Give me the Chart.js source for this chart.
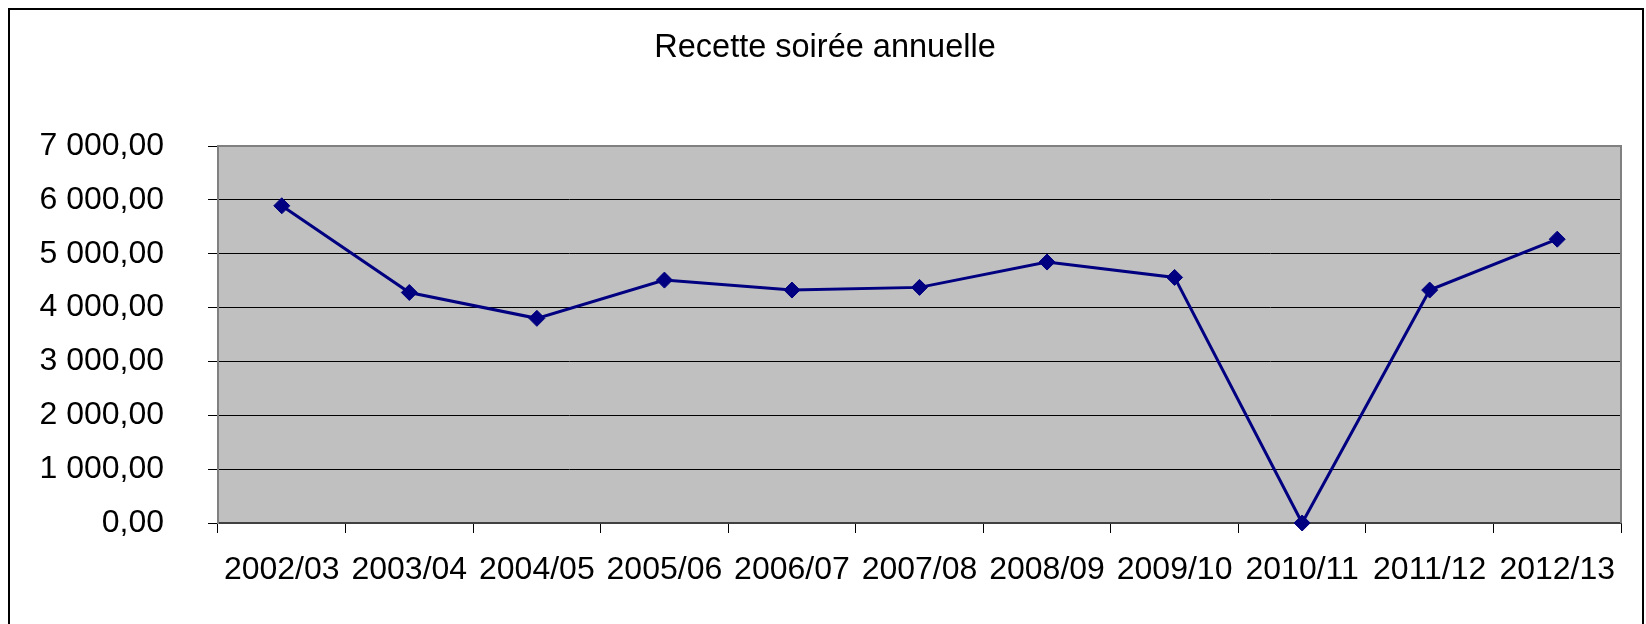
<!DOCTYPE html>
<html>
<head>
<meta charset="utf-8">
<title>Recette soirée annuelle</title>
<script src="https://cdn.jsdelivr.net/npm/chart.js@4/dist/chart.umd.min.js"></script>
<style>
  html, body { margin: 0; padding: 0; background: #ffffff; }
  #graph { display: block; }
</style>
</head>
<body>
<canvas id="graph" width="1646" height="624"></canvas>
<script>
// Données
var saisons = ['2002/03', '2003/04', '2004/05', '2005/06', '2006/07', '2007/08', '2008/09', '2009/10', '2010/11', '2011/12', '2012/13'];
var recettes = [5890, 4280, 3800, 4510, 4325, 4375, 4845, 4560, 0, 4325, 5270];
var etiquettesY = ['0,00', '1 000,00', '2 000,00', '3 000,00', '4 000,00', '5 000,00', '6 000,00', '7 000,00'];

var police = 'Liberation Sans, Arial, sans-serif';

// Fond gris de la zone de tracé + cadres
var cadrePlugin = {
    id: 'cadre',
    beforeDraw: function (chart) {
        var ctx = chart.ctx;
        var a = chart.chartArea;
        ctx.save();
        ctx.fillStyle = '#ffffff';
        ctx.fillRect(0, 0, chart.width, chart.height);
        ctx.fillStyle = '#c0c0c0';
        ctx.fillRect(a.left, a.top, a.right - a.left, a.bottom - a.top);
        ctx.restore();
    },
    beforeDatasetsDraw: function (chart) {
        var ctx = chart.ctx;
        var a = chart.chartArea;
        ctx.save();
        ctx.strokeStyle = '#808080';
        ctx.lineWidth = 2;
        ctx.beginPath();
        ctx.moveTo(a.left, a.top);
        ctx.lineTo(a.right, a.top);
        ctx.lineTo(a.right, a.bottom);
        ctx.stroke();
        ctx.restore();
    },
    afterDraw: function (chart) {
        var ctx = chart.ctx;
        ctx.save();
        ctx.strokeStyle = '#000000';
        ctx.lineWidth = 2;
        ctx.strokeRect(9, 9, 1634, 640);
        ctx.restore();
    }
};

function dessinerGraphique() {
    var ctx = document.getElementById('graph');
    new Chart(ctx, {
        type: 'line',
        data: {
            labels: saisons,
            datasets: [{
                label: 'Recette',
                data: recettes,
                borderColor: '#000080',
                backgroundColor: '#000080',
                borderWidth: 3,
                pointStyle: 'rectRot',
                pointRadius: 8,
                pointBorderWidth: 1,
                pointBackgroundColor: '#000080',
                pointBorderColor: '#000080',
                tension: 0,
                clip: false
            }]
        },
        options: {
            responsive: false,
            animation: false,
            layout: {
                padding: { left: 29, right: 25, top: 0, bottom: 0 }
            },
            plugins: {
                legend: { display: false },
                tooltip: { enabled: false },
                title: {
                    display: true,
                    text: 'Recette soirée annuelle',
                    color: '#000000',
                    font: { family: police, size: 32.5, weight: 'normal', lineHeight: 1.2 },
                    padding: { top: 29, bottom: 78 }
                }
            },
            scales: {
                x: {
                    offset: true,
                    grid: {
                        display: true,
                        offset: true,
                        drawOnChartArea: false,
                        drawTicks: true,
                        tickLength: 10,
                        tickColor: '#000000',
                        tickWidth: 1
                    },
                    border: { display: true, color: '#404040', width: 2 },
                    ticks: {
                        color: '#000000',
                        font: { family: police, size: 32 },
                        padding: 18,
                        maxRotation: 0,
                        autoSkip: false
                    },
                    afterFit: function (scale) { scale.height = 101; }
                },
                y: {
                    min: 0,
                    max: 7000,
                    ticks: {
                        stepSize: 1000,
                        color: '#000000',
                        font: { family: police, size: 32 },
                        padding: 44,
                        callback: function (value, index) { return etiquettesY[index]; }
                    },
                    grid: {
                        color: '#000000',
                        lineWidth: 1,
                        tickLength: 10,
                        tickColor: '#000000'
                    },
                    border: { display: true, color: '#808080', width: 2 },
                    afterFit: function (scale) { scale.width = 189; }
                }
            }
        },
        plugins: [cadrePlugin]
    });
}

dessinerGraphique();
</script>
</body>
</html>
